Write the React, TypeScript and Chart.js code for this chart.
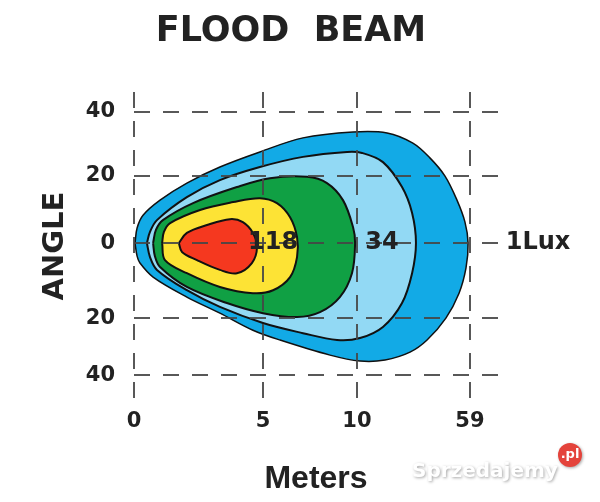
import React, { useEffect, useRef } from 'react';
import { Chart, registerables } from 'chart.js';

Chart.register(...registerables);

const chartTitle = 'FLOOD  BEAM';
const xAxisTitle = 'Meters';
const yAxisTitle = 'ANGLE';

// schematic axes: tick positions and the labels printed at them
const xTickValues = [0, 5, 8.64, 13.02];
const xTickLabels = ['0', '5', '10', '59'];
const yTickValues = [-40.3, -22.9, 0, 20.5, 40];
const yTickLabels = ['40', '20', '0', '20', '40'];

// iso-lux contours, [distance, angle]
const redZone: number[][] = [
  [1.74, 0], [2.05, 3.1], [2.83, 5.5], [3.72, 7.3], [4.22, 6.4], [4.61, 3.1],
  [4.77, -1.2], [4.57, -6.1], [3.99, -9.2], [3.33, -8.2], [2.44, -5.2], [1.86, -2.7],
];
const yellowZone: number[][] = [
  [1.09, 0], [1.16, 3.4], [1.4, 6.1], [2.56, 10.1], [3.84, 12.5], [4.88, 13.7],
  [5.54, 12.2], [6.05, 7.9], [6.32, 1.8], [6.32, -4.3], [6.05, -10.4], [5.39, -14.4],
  [4.61, -15.3], [3.33, -13.4], [2.05, -9.2], [1.2, -5.2],
];
const greenZone: number[][] = [
  [0.74, 0], [0.85, 4.0], [1.12, 7.0], [2.29, 12.2], [3.99, 17.1], [5.27, 19.8],
  [6.71, 20.2], [7.48, 18.3], [8.1, 13.1], [8.49, 4.9], [8.57, 0], [8.45, -9.2],
  [7.98, -16.5], [7.21, -21.1], [6.32, -22.6], [5.0, -21.4], [3.6, -18.3],
  [2.05, -13.4], [1.01, -7.3], [0.81, -4.0],
];
const lightBlueZone: number[][] = [
  [0.5, 0], [0.62, 3.4], [0.89, 7.0], [2.05, 14.0], [3.33, 19.2], [4.88, 23.2],
  [6.55, 26.3], [8.26, 27.8], [8.84, 27.5], [9.65, 24.7], [10.39, 17.1], [10.78, 9.2],
  [10.93, 0], [10.78, -9.2], [10.39, -18.3], [9.65, -25.6], [8.76, -29.0],
  [7.87, -29.6], [6.55, -27.5], [5.0, -24.4], [3.33, -19.5], [2.05, -14.4],
  [0.89, -8.2], [0.62, -4.3],
];
const outerZone: number[][] = [
  [0.04, 0], [0.12, 4.6], [0.35, 8.5], [1.01, 13.1], [2.05, 18.3], [3.33, 23.2],
  [4.88, 27.8], [6.55, 32.1], [8.49, 33.9], [9.81, 33.6], [10.81, 30.5], [11.47, 26.0],
  [12.05, 20.5], [12.52, 13.1], [12.83, 6.4], [12.95, 0], [12.87, -7.6], [12.6, -15.3],
  [12.09, -22.9], [11.36, -29.6], [10.7, -33.3], [9.73, -35.7], [8.76, -36.0],
  [7.6, -34.2], [5.66, -29.6], [4.61, -26.6], [3.33, -21.4], [2.05, -16.5],
  [0.74, -10.4], [0.23, -6.1], [0.12, -4.0],
];

const zoneNames = ['red', 'yellow', 'green', 'light blue', '1 Lux'];
const zoneColors = ['#f5381f', '#fde335', '#10a044', '#92d9f4', '#12aae6'];
const zoneBorderWidths = [2, 2, 2, 2, 1.5];
const zones = [redZone, yellowZone, greenZone, lightBlueZone, outerZone];

// value labels printed on the chart
const valueLabels = ['118', '34', '1Lux'];
const valueLabelX = [5.39, 9.61, 15.66];
const valueLabelY = [0, 0, 0];

const FONT = 'DejaVu Sans';
const TEXT = '#222222';

const labelsPlugin = {
  id: 'valueLabels',
  afterDraw(chart: any) {
    const { ctx, scales } = chart;
    ctx.save();
    ctx.fillStyle = TEXT;
    ctx.font = `bold 24px "${FONT}"`;
    ctx.textAlign = 'center';
    ctx.textBaseline = 'middle';
    valueLabels.forEach((t, i) => {
      ctx.fillText(t, scales.x.getPixelForValue(valueLabelX[i]), scales.y.getPixelForValue(valueLabelY[i]));
    });
    ctx.restore();

    // site watermark
    ctx.save();
    ctx.font = `bold 20px "${FONT}"`;
    ctx.textAlign = 'left';
    ctx.textBaseline = 'alphabetic';
    ctx.shadowColor = 'rgba(0,0,0,0.35)';
    ctx.shadowBlur = 3;
    ctx.shadowOffsetX = 1;
    ctx.shadowOffsetY = 1;
    ctx.fillStyle = '#ffffff';
    ctx.fillText('Sprzedajemy', 412, 477);
    ctx.beginPath();
    ctx.arc(570, 455, 12, 0, Math.PI * 2);
    ctx.fillStyle = '#e4433b';
    ctx.fill();
    ctx.shadowColor = 'transparent';
    ctx.fillStyle = '#ffffff';
    ctx.font = `bold 13px "${FONT}"`;
    ctx.textAlign = 'center';
    ctx.textBaseline = 'middle';
    ctx.fillText('.pl', 570, 455);
    ctx.restore();
  },
};

export default function App() {
  const ref = useRef<HTMLCanvasElement | null>(null);

  useEffect(() => {
    if (!ref.current) return;
    const datasets = zones.map((pts, i) => {
      const closed = [...pts, pts[0]];
      return {
        label: zoneNames[i],
        data: closed.map(([x, y]) => ({ x, y })),
        backgroundColor: zoneColors[i],
        borderColor: '#111111',
        borderWidth: zoneBorderWidths[i],
        fill: 'shape',
        tension: 0.35,
        pointRadius: 0,
        pointHoverRadius: 0,
      };
    });

    const gridCommon = {
      color: 'rgba(70,70,70,0.9)',
      lineWidth: 2,
      drawTicks: false,
      z: 1,
    };

    const chart = new Chart(ref.current, {
      type: 'line',
      data: { datasets } as any,
      options: {
        animation: false,
        responsive: false,
        layout: { padding: { left: 0, right: 18, top: 0, bottom: 0 } },
        plugins: {
          legend: { display: false },
          tooltip: { enabled: false },
          title: {
            display: true,
            text: chartTitle,
            color: TEXT,
            font: { family: FONT, weight: 'bold', size: 35 },
            padding: { top: 11, bottom: 39 },
          },
        },
        scales: {
          x: {
            type: 'linear',
            min: 0,
            max: 14.11,
            afterBuildTicks: (scale: any) => {
              scale.ticks = xTickValues.map((v) => ({ value: v }));
            },
            afterFit: (scale: any) => {
              scale.height = 102;
            },
            ticks: {
              autoSkip: false,
              maxRotation: 0,
              padding: 9,
              color: TEXT,
              font: { family: FONT, weight: 'bold', size: 21 },
              callback: (_v: any, i: number) => xTickLabels[i],
            },
            grid: gridCommon,
            border: { display: false, dash: [16, 13] },
            title: {
              display: true,
              text: xAxisTitle,
              color: TEXT,
              font: { family: 'Liberation Sans', weight: 'bold', size: 32 },
              padding: { top: 0, bottom: 4 },
            },
          },
          y: {
            type: 'linear',
            min: -47.9,
            max: 46.1,
            afterBuildTicks: (scale: any) => {
              scale.ticks = yTickValues.map((v) => ({ value: v }));
            },
            afterFit: (scale: any) => {
              scale.width = 134;
            },
            ticks: {
              autoSkip: false,
              padding: 19,
              color: TEXT,
              font: { family: FONT, weight: 'bold', size: 21 },
              callback: (_v: any, i: number) => yTickLabels[i],
            },
            grid: gridCommon,
            border: { display: false, dash: [16, 13] },
            title: {
              display: true,
              text: yAxisTitle,
              color: TEXT,
              font: { family: FONT, weight: 'bold', size: 29 },
              padding: { top: 38, bottom: 0 },
            },
          },
          // empty right-hand gutter that leaves room for the "1Lux" label
          gutter: {
            type: 'linear',
            position: 'right',
            display: true,
            afterFit: (scale: any) => {
              scale.width = 84;
            },
            ticks: { display: false },
            grid: { display: false },
            border: { display: false },
          },
        },
      } as any,
      plugins: [labelsPlugin],
    });
    return () => chart.destroy();
  }, []);

  return (
    <div style={{ position: 'absolute', left: 0, top: 0, width: 600, height: 502, background: '#ffffff' }}>
      <canvas ref={ref} width={600} height={502} />
    </div>
  );
}
